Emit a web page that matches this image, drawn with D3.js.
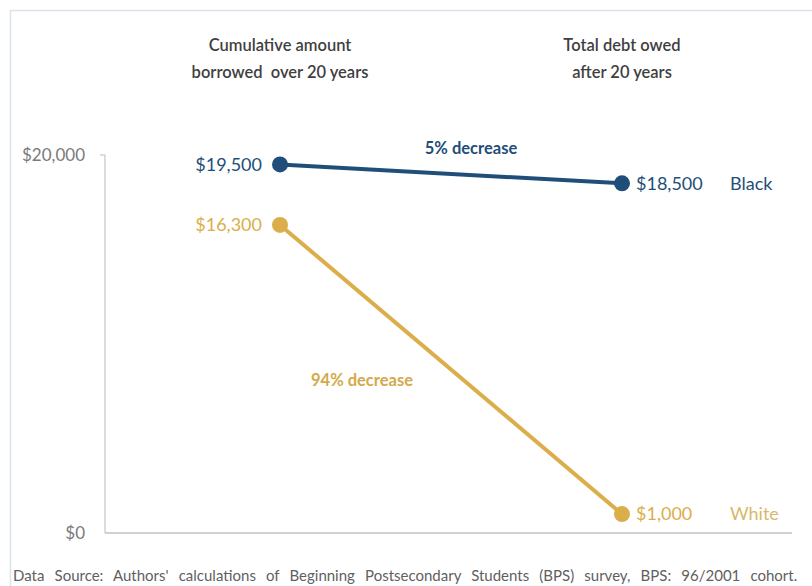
<!DOCTYPE html>
<html>
<head>
<meta charset="utf-8">
<script src="https://cdn.jsdelivr.net/npm/d3@7"></script>
<style>
  body { margin: 0; background: #fff; }
  svg { display: block; font-family: Lato, "Open Sans", sans-serif; }
</style>
</head>
<body>
<svg id="chart"></svg>
<script>
// data
const stages = ['Cumulative amount borrowed over 20 years', 'Total debt owed after 20 years'];
const stageLines = [['Cumulative amount', 'borrowed  over 20 years'], ['Total debt owed', 'after 20 years']];
const groups = ['Black', 'White'];
const black = [19500, 18500];
const white = [16300, 1000];
const changeLabels = ['5% decrease', '94% decrease'];
const yTicks = [0, 20000];

const width = 812;
const height = 586;

const svg = d3.select('#chart')
    .attr('width', width)
    .attr('height', height);

// light frame around the picture
svg.append('rect')
    .attr('x', 10.5).attr('y', 10.5)
    .attr('width', width).attr('height', height)
    .attr('fill', 'none')
    .attr('stroke', '#dbe3ec')
    .attr('stroke-width', 1.5);

const x = d3.scalePoint()
    .domain(stages)
    .range([280, 622]);

const y = d3.scaleLinear()
    .domain([0, 20000])
    .range([533, 155]);

const money = d3.format('$,');
const color = d3.scaleOrdinal()
    .domain(groups)
    .range(['#1f4e79', '#dbae4a']);

// y axis (only the two end ticks)
const yAxis = d3.axisLeft(y)
    .tickValues(yTicks)
    .tickFormat(money)
    .tickSize(0)
    .tickPadding(20);

const gy = svg.append('g')
    .attr('transform', 'translate(105,0)')
    .call(yAxis);
gy.select('.domain').remove();
gy.selectAll('text')
    .attr('fill', '#7a7a7a')
    .style('font-size', '17px')
    .style('font-family', 'Lato, sans-serif');

svg.append('line')
    .attr('x1', 105).attr('x2', 105)
    .attr('y1', y(20000)).attr('y2', y(0))
    .attr('stroke', '#d0d0d0').attr('stroke-width', 1.5);
svg.append('line')
    .attr('x1', 100).attr('x2', 105)
    .attr('y1', y(20000)).attr('y2', y(20000))
    .attr('stroke', '#d0d0d0').attr('stroke-width', 1.5);
svg.append('line')
    .attr('x1', 105).attr('x2', 792)
    .attr('y1', y(0)).attr('y2', y(0))
    .attr('stroke', '#d0d0d0').attr('stroke-width', 2);

// column headers
stages.forEach((s, i) => {
    const t = svg.append('text')
        .attr('x', x(s))
        .attr('text-anchor', 'middle')
        .attr('fill', '#3f3f3f')
        .style('font-size', '16.5px')
        .style('font-weight', 600);
    stageLines[i].forEach((line, j) => {
        t.append('tspan')
            .attr('x', x(s))
            .attr('y', 51 + j * 27)
            .attr('xml:space', 'preserve')
            .text(line);
    });
});

// series
const series = [
    {name: 'Black', values: black, nameColor: '#1f4e79'},
    {name: 'White', values: white, nameColor: '#d9b86a'}
];

const line = d3.line()
    .x((d, i) => x(stages[i]))
    .y(d => y(d));

series.forEach(s => {
    const c = color(s.name);
    svg.append('path')
        .datum(s.values)
        .attr('d', line)
        .attr('fill', 'none')
        .attr('stroke', c)
        .attr('stroke-width', 4);

    svg.selectAll(null)
        .data(s.values)
        .enter()
        .append('circle')
        .attr('cx', (d, i) => x(stages[i]))
        .attr('cy', d => y(d))
        .attr('r', 8)
        .attr('fill', c);

    // value labels
    svg.append('text')
        .attr('x', x(stages[0]) - 18)
        .attr('y', y(s.values[0]))
        .attr('dy', '0.35em')
        .attr('text-anchor', 'end')
        .attr('fill', c)
        .style('font-size', '18px')
        .text(money(s.values[0]));
    svg.append('text')
        .attr('x', x(stages[1]) + 14)
        .attr('y', y(s.values[1]))
        .attr('dy', '0.35em')
        .attr('fill', c)
        .style('font-size', '18px')
        .text(money(s.values[1]));

    // group name
    svg.append('text')
        .attr('x', 730)
        .attr('y', y(s.values[1]))
        .attr('dy', '0.35em')
        .attr('fill', s.nameColor)
        .style('font-size', '18px')
        .text(s.name);
});

// change annotations
svg.append('text')
    .attr('x', 471)
    .attr('y', 148)
    .attr('dy', '0.35em')
    .attr('text-anchor', 'middle')
    .attr('fill', '#1f4e79')
    .style('font-size', '16.5px')
    .style('font-weight', 700)
    .text(changeLabels[0]);

svg.append('text')
    .attr('x', 362)
    .attr('y', 380)
    .attr('dy', '0.35em')
    .attr('text-anchor', 'middle')
    .attr('fill', '#d4a94a')
    .style('font-size', '16.5px')
    .style('font-weight', 700)
    .text(changeLabels[1]);

// source note
svg.append('text')
    .attr('x', 13)
    .attr('y', 576)
    .attr('dy', '0.35em')
    .attr('fill', '#5f5f5f')
    .style('font-size', '15px')
    .style('word-spacing', '6.3px')
    .text("Data Source: Authors' calculations of Beginning Postsecondary Students (BPS) survey, BPS: 96/2001 cohort.");
</script>
</body>
</html>
